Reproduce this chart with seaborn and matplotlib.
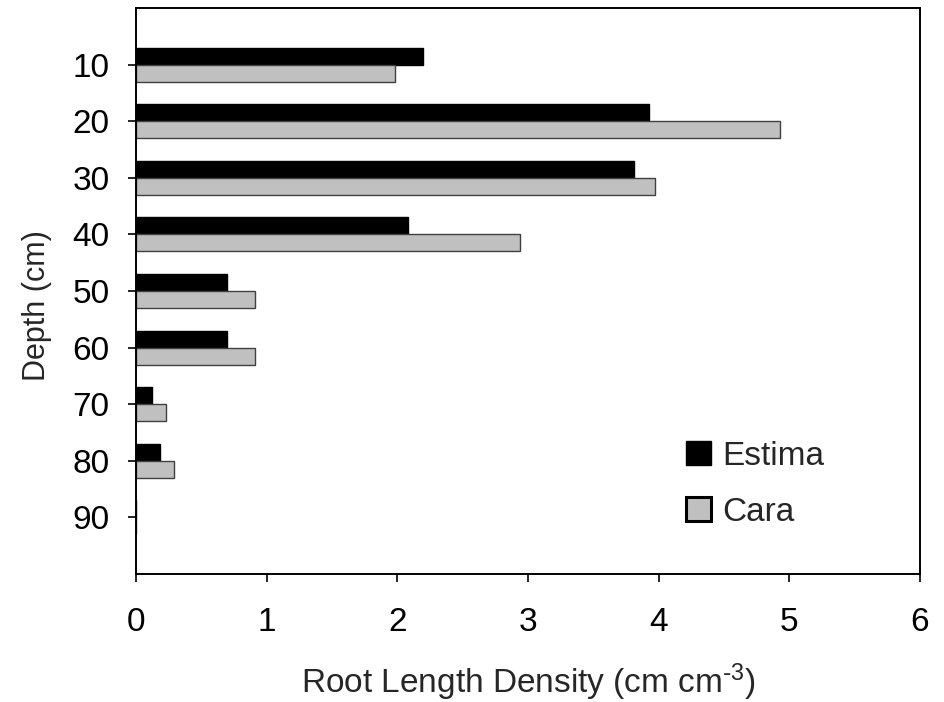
import pandas as pd
import numpy as np
import matplotlib
matplotlib.use('Agg')
import matplotlib.pyplot as plt
import seaborn as sns

# values
depths = [10, 20, 30, 40, 50, 60, 70, 80, 90]
estima = [2.20, 3.93, 3.81, 2.08, 0.70, 0.70, 0.12, 0.18, 0.0]
cara = [1.98, 4.93, 3.97, 2.94, 0.91, 0.91, 0.23, 0.29, 0.0]
cultivars = ['Estima', 'Cara']
colors = ['#000000', '#C0C0C0']
x_ticks = [0, 1, 2, 3, 4, 5, 6]

df = pd.DataFrame({
    'depth': depths * 2,
    'rld': estima + cara,
    'cultivar': ['Estima'] * len(depths) + ['Cara'] * len(depths),
})

sns.set_style('ticks')
plt.rcParams['font.family'] = ['Liberation Sans', 'DejaVu Sans']
plt.rcParams['mathtext.default'] = 'regular'

fig = plt.figure(figsize=(9.45, 7.02), dpi=100)
ax = fig.add_axes([0.1439, 0.1823, 0.8296, 0.8063])

sns.barplot(data=df, x='rld', y='depth', hue='cultivar', orient='h',
            order=depths, hue_order=cultivars, palette=colors,
            width=0.6, errorbar=None, ax=ax)

for bar in ax.patches:
    fc = bar.get_facecolor()
    bar.set_edgecolor('#000000' if fc[0] < 0.5 else '#404040')
    bar.set_linewidth(1.0)

ax.set_xlim(0, 6)
ax.set_ylim(len(depths), -1)
ax.set_xticks(x_ticks)
ax.set_xticklabels([str(t) for t in x_ticks])
ax.set_yticks(range(len(depths)))
ax.set_yticklabels([str(d) for d in depths])

for s in ax.spines.values():
    s.set_visible(True)
    s.set_linewidth(1.4)
    s.set_color('black')

ax.tick_params(axis='x', direction='out', length=6, width=1.2, pad=18,
               labelsize=24, colors='black')
ax.tick_params(axis='y', direction='out', length=6, width=1.2, pad=13,
               labelsize=24, colors='black')

ax.set_xlabel(r'Root Length Density (cm cm$^{\text{-}3}$)', fontsize=24, labelpad=17)
ax.set_ylabel('Depth (cm)', fontsize=22)
ax.yaxis.set_label_coords(-0.107, 0.475)

handles, labels = ax.get_legend_handles_labels()
leg = ax.legend(handles, labels, loc='upper left', bbox_to_anchor=(0.68, 0.265),
                frameon=False, fontsize=24, handlelength=0.75, handleheight=0.7,
                handletextpad=0.35, labelspacing=0.75, borderpad=0)
for h, lw in zip(leg.legend_handles, [1.0, 2.2]):
    h.set_edgecolor('#000000')
    h.set_linewidth(lw)

fig.savefig('out.png', dpi=100)
